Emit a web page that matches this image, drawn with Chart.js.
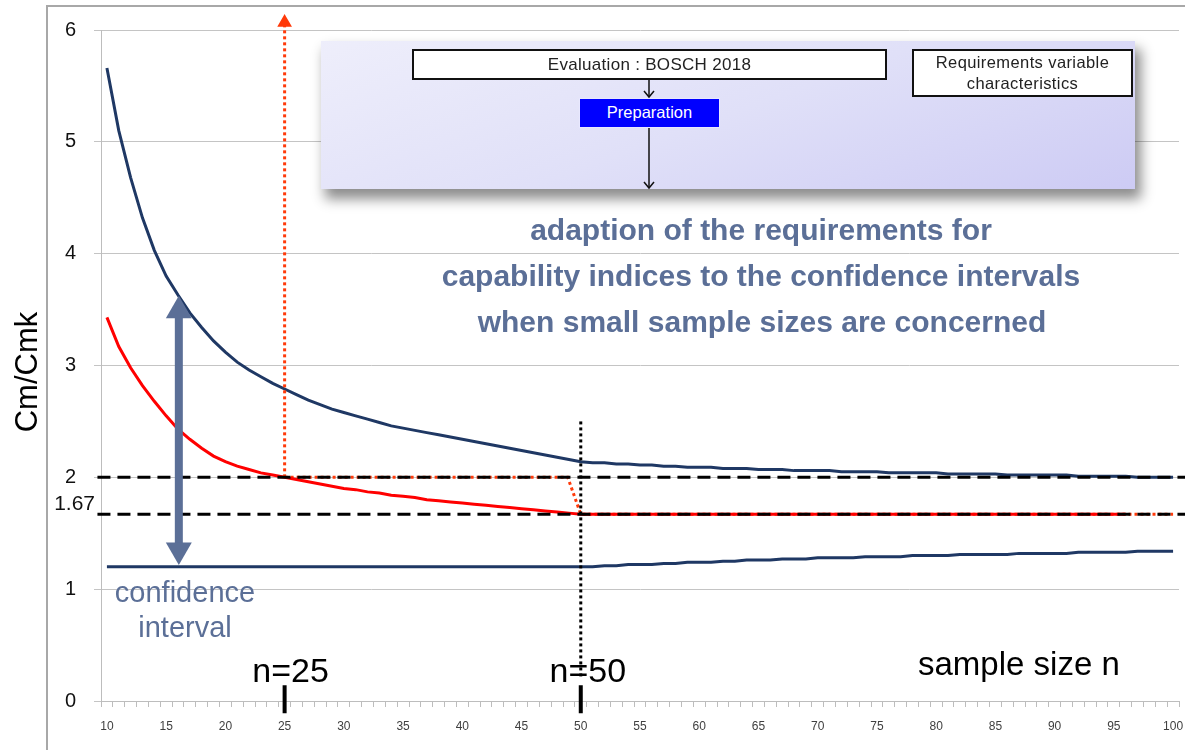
<!DOCTYPE html>
<html><head><meta charset="utf-8">
<script src="https://cdn.jsdelivr.net/npm/chart.js@4.4.0/dist/chart.umd.min.js"></script>
<style>
html,body{margin:0;padding:0;background:#fff;}
#wrap{position:relative;width:1185px;height:750px;overflow:hidden;font-family:"Liberation Sans",Arial,sans-serif;}
#frame{position:absolute;left:46px;top:5px;width:1300px;height:900px;border-left:2px solid #a8a8a8;border-top:2px solid #a8a8a8;}
#c{position:absolute;left:0;top:0;}
#panel{position:absolute;left:321px;top:41px;width:814px;height:148px;
  background:linear-gradient(160deg,#eeeefb 0%,#e0e0f8 50%,#cdcbf4 100%);
  box-shadow:5px 9px 12px 1px rgba(0,0,0,0.45);}
.box{position:absolute;background:#fff;border:2px solid #111;box-sizing:border-box;color:#222;text-align:center;}
#eval{left:91px;top:8px;width:475px;height:31px;font-size:17px;line-height:27px;letter-spacing:0.3px;}
#req{left:591px;top:8px;width:221px;height:48px;font-size:16.5px;line-height:21px;padding-top:1px;letter-spacing:0.4px;}
#prep{position:absolute;left:258px;top:57px;width:141px;height:30px;background:#0000ff;border:1px solid #e8e8ff;box-sizing:border-box;color:#fff;font-size:16.5px;line-height:27px;text-align:center;}
#arr{position:absolute;left:0;top:0;}
</style></head>
<body>
<div id="wrap">
  <div id="frame"></div>
  <canvas id="c" width="1185" height="750"></canvas>
  <div id="panel">
    <div class="box" id="eval">Evaluation : BOSCH 2018</div>
    <div class="box" id="req">Requirements variable<br>characteristics</div>
    <div id="prep">Preparation</div>
    <svg id="arr" width="814" height="160">
      <g stroke="#111" stroke-width="1.5" fill="none">
        <line x1="328" y1="39" x2="328" y2="56"/>
        <polyline points="323,50 328,56 333,50"/>
        <line x1="328" y1="87" x2="328" y2="147"/>
        <polyline points="323,141 328,147 333,141"/>
      </g>
    </svg>
  </div>
</div>
<script>
// ---- data ----
const sampleSizes = [10,11,12,13,14,15,16,17,18,19,20,21,22,23,24,25,26,27,28,29,30,31,32,33,34,35,36,37,38,39,40,41,42,43,44,45,46,47,48,49,50,51,52,53,54,55,56,57,58,59,60,61,62,63,64,65,66,67,68,69,70,71,72,73,74,75,76,77,78,79,80,81,82,83,84,85,86,87,88,89,90,91,92,93,94,95,96,97,98,99,100];
const upperLimit = [5.66,5.10,4.68,4.32,4.03,3.80,3.63,3.47,3.34,3.22,3.12,3.03,2.96,2.90,2.84,2.79,2.74,2.69,2.65,2.61,2.58,2.55,2.52,2.49,2.46,2.44,2.42,2.40,2.38,2.36,2.34,2.32,2.30,2.28,2.26,2.24,2.22,2.20,2.18,2.16,2.14,
  2.13,2.13,2.12,2.12,2.11,2.11,2.10,2.10,2.09,2.09,2.09,2.08,2.08,2.08,2.07,2.07,2.07,2.06,2.06,2.06,2.06,2.05,2.05,2.05,2.05,2.04,2.04,2.04,2.04,2.04,2.03,2.03,2.03,2.03,2.03,2.02,2.02,2.02,2.02,2.02,2.02,2.01,2.01,2.01,2.01,2.01,2.00,2.00,2.00,2.00];
const requirement = [3.43,3.17,2.98,2.82,2.68,2.55,2.43,2.34,2.26,2.19,2.14,2.10,2.07,2.04,2.02,2.00,1.98,1.96,1.94,1.92,1.90,1.89,1.87,1.86,1.84,1.83,1.82,1.80,1.79,1.78,1.77,1.76,1.75,1.74,1.73,1.72,1.71,1.70,1.69,1.68,1.67,
  1.67,1.67,1.67,1.67,1.67,1.67,1.67,1.67,1.67,1.67,1.67,1.67,1.67,1.67,1.67,1.67,1.67,1.67,1.67,1.67,1.67,1.67,1.67,1.67,1.67,1.67,1.67,1.67,1.67,1.67,1.67,1.67,1.67,1.67,1.67,1.67,1.67,1.67,1.67,1.67,1.67,1.67,1.67,1.67,1.67,1.67];
const lowerLimit = [1.20,1.20,1.20,1.20,1.20,1.20,1.20,1.20,1.20,1.20,1.20,1.20,1.20,1.20,1.20,1.20,1.20,1.20,1.20,1.20,1.20,1.20,1.20,1.20,1.20,1.20,1.20,1.20,1.20,1.20,1.20,1.20,1.20,1.20,1.20,1.20,1.20,1.20,1.20,1.20,1.20,
  1.20,1.21,1.21,1.22,1.22,1.22,1.23,1.23,1.24,1.24,1.24,1.25,1.25,1.26,1.26,1.26,1.27,1.27,1.27,1.28,1.28,1.28,1.28,1.29,1.29,1.29,1.29,1.30,1.30,1.30,1.30,1.31,1.31,1.31,1.31,1.31,1.32,1.32,1.32,1.32,1.32,1.33,1.33,1.33,1.33,1.33,1.34,1.34,1.34,1.34];
const yTicks = [0,1,2,3,4,5,6];
const xLabelStep = 5;
const limitLevels = [2, 1.67];
const markedSizes = [25, 50];
const requirementPath = [{x:25,y:2},{x:48.9,y:2},{x:50,y:1.67},{x:100,y:1.67}];
const arrowUp = [{x:25,y:2},{x:25,y:6.067}];
const ciArrow = [{x:16.07,y:3.49},{x:16.07,y:1.35}];
const n50Guide = [{x:50,y:2.5},{x:50,y:0.2}];
const tickMarkRange = [0.14,-0.11];

const NAVY = '#1f3864', RED = '#ff0000', ORANGE = '#ff3a0a', SLATE = '#5b6f97';
const FONT = '"Liberation Sans", Arial, sans-serif';

const overlays = [];
limitLevels.forEach(v => overlays.push({type:'line', xAxisID:'xl', data:[{x:9.2,y:v},{x:101.5,y:v}], borderColor:'#000', borderWidth:3, borderDash:[13,7], pointRadius:0, clip:false, order:1}));
markedSizes.forEach(n => overlays.push({type:'line', xAxisID:'xl', data:[{x:n,y:tickMarkRange[0]},{x:n,y:tickMarkRange[1]}], borderColor:'#000', borderWidth:4, pointRadius:0, clip:false, order:1}));

const annot = {
  id:'annot',
  afterDraw(chart){
    const ctx = chart.ctx, y = chart.scales.y, xl = chart.scales.xl;
    ctx.save();
    ctx.fillStyle = '#111';
    ctx.font = '21px ' + FONT; ctx.textAlign='right'; ctx.textBaseline='middle';
    ctx.fillText('1.67', 95, y.getPixelForValue(1.67) - 10);
    ctx.fillStyle = '#000';
    ctx.font = '34px ' + FONT; ctx.textAlign='center'; ctx.textBaseline='alphabetic';
    ctx.fillText('n=25', xl.getPixelForValue(25) + 6, 682);
    ctx.fillText('n=50', xl.getPixelForValue(50) + 7, 682);
    ctx.font = '33px ' + FONT; ctx.textAlign='left';
    ctx.fillText('sample size n', 918, 675);
    ctx.fillStyle = SLATE;
    ctx.font = '29px ' + FONT; ctx.textAlign='center';
    ctx.fillText('confidence', 185, 602);
    ctx.fillText('interval', 185, 637);
    ctx.font = 'bold 30px ' + FONT; ctx.textBaseline='middle';
    ctx.fillText('adaption of the requirements for', 761, 232);
    ctx.fillText('capability indices to the confidence intervals', 761, 278);
    ctx.fillText('when small sample sizes are concerned', 762, 324);
    ctx.fillStyle = '#000';
    ctx.translate(28, 372); ctx.rotate(-Math.PI/2);
    ctx.font = '31px ' + FONT; ctx.textAlign='center'; ctx.textBaseline='middle';
    ctx.fillText('Cm/Cmk', 0, 0);
    ctx.restore();
  }
};

new Chart(document.getElementById('c'), {
  type:'line',
  data:{
    labels: sampleSizes.map(String),
    datasets:[
      {label:'upper', data:upperLimit, borderColor:NAVY, borderWidth:3, pointRadius:0, order:5},
      {label:'lower', data:lowerLimit, borderColor:NAVY, borderWidth:3, pointRadius:0, order:5},
      {label:'reqPath', xAxisID:'xl', data:requirementPath, borderColor:ORANGE, borderWidth:3, borderDash:[3,3], pointRadius:0, clip:false, order:4},
      {label:'requirement', data:requirement, borderColor:RED, borderWidth:3, pointRadius:0, order:3},
      {label:'arrowUp', xAxisID:'xl', data:arrowUp, borderColor:ORANGE, borderWidth:3, borderDash:[3,3], pointRadius:[0,6], pointStyle:'triangle', pointBackgroundColor:ORANGE, pointBorderColor:ORANGE, pointBorderWidth:[0,2.5], clip:false, order:2},
      {label:'n50', xAxisID:'xl', data:n50Guide, borderColor:'#000', borderWidth:3, borderDash:[3,3], pointRadius:0, clip:false, order:2},
      ...overlays,
      {label:'ci', xAxisID:'xl', data:ciArrow, borderColor:SLATE, borderWidth:8, pointRadius:[15,15], pointRotation:[0,180], pointStyle:'triangle', pointBackgroundColor:SLATE, pointBorderWidth:0, clip:false, order:0}
    ]
  },
  options:{
    responsive:false, animation:false, devicePixelRatio:1,
    layout:{autoPadding:false, padding:{top:29,right:6,left:0,bottom:0}},
    plugins:{legend:{display:false}, tooltip:{enabled:false}},
    elements:{line:{tension:0}},
    scales:{
      x:{type:'category', offset:true,
        grid:{offset:true, drawOnChartArea:false, drawTicks:true, tickLength:6, color:'#bdbdbd'},
        border:{display:true, color:'#bdbdbd'},
        ticks:{autoSkip:false, maxRotation:0, padding:0, color:'#404040', font:{size:12, family:FONT, lineHeight:3.33},
          callback:(v,i)=> sampleSizes[i] % xLabelStep === 0 ? String(sampleSizes[i]) : ''},
        afterFit:s=>{s.height=49; s.paddingLeft=0; s.paddingRight=0;}
      },
      xl:{type:'linear', display:false, min:9.5, max:100.5, ticks:{display:false}, grid:{display:false},
        afterFit:s=>{s.paddingLeft=0; s.paddingRight=0; s.height=0;}},
      y:{min:0, max:6,
        afterBuildTicks:s=>{s.ticks = yTicks.map(v=>({value:v}));},
        grid:{color:'#c4c4c4', tickLength:7},
        border:{display:true, color:'#bdbdbd'},
        ticks:{padding:18, color:'#111', font:{size:20, family:FONT}},
        afterFit:s=>{s.width=101;}
      }
    }
  },
  plugins:[annot]
});
</script>
</body></html>
